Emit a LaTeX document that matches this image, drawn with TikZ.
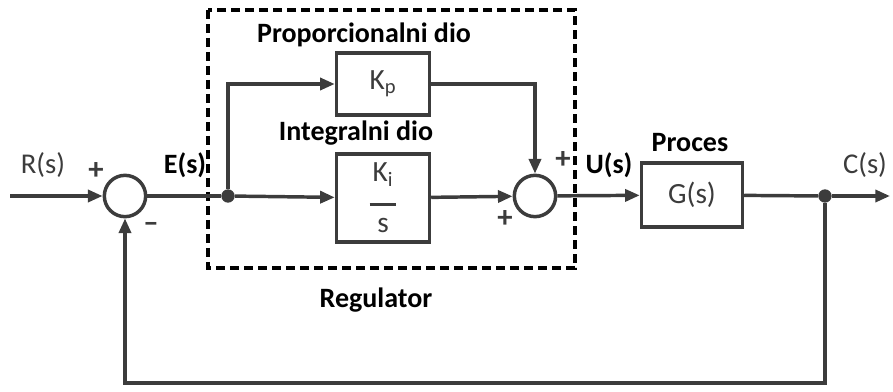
\documentclass[tikz,border=0pt]{standalone}
\usepackage{fontspec}
\setmainfont{Carlito}
\usetikzlibrary{arrows.meta,positioning}
\definecolor{linegray}{HTML}{3C3C3C}
\tikzset{
  wire/.style={draw=linegray, line width=2.6pt},
  conn/.style={wire, -{Triangle[length=11pt,width=9pt]}},
  block/.style={draw=linegray, line width=2.6pt, fill=white, text=linegray, font=\fontsize{22}{26}\selectfont},
  sumnode/.style={circle, draw=linegray, line width=2.6pt, minimum size=31pt, inner sep=0pt},
  dot/.style={circle, fill=linegray, minimum size=10pt, inner sep=0pt},
  sig/.style={font=\fontsize{21.5}{25}\selectfont, text=linegray},
  sigbold/.style={font=\bfseries\fontsize{21}{25}\selectfont},
  title/.style={font=\bfseries\fontsize{21}{25}\selectfont},
  sign/.style={font=\bfseries\fontsize{23}{26}\selectfont, text=linegray}
}
\begin{document}
\begin{tikzpicture}[x=0.75pt, y=-0.75pt]
  \useasboundingbox (0,0) rectangle (893,392);
  % blocks
  \node[sumnode] (sum1) at (125,196) {};
  \node[sumnode] (sum2) at (535,196) {};
  \node[block, minimum width=69.75pt, minimum height=46.5pt] (kp) at (383,84) {K\textsubscript{p}};
  \node[block, minimum width=69.75pt, minimum height=66pt, align=center] (ki) at (383,198)
    {K\textsubscript{i}\\[-8pt]\rule{20pt}{2pt}\\[-6pt]s};
  \node[block, minimum width=75.75pt, minimum height=48pt] (gs) at (692,195) {G(s)};
  \node[dot] (split) at (228,196) {};
  \node[dot] (tap) at (825,196) {};
  \coordinate (in) at (10,196);
  \coordinate (out) at (890,196);
  \coordinate (fb) at (825,383);
  % regulator frame
  \draw[black, line width=2.6pt, dash pattern=on 6.75pt off 3.75pt] (208,10) rectangle (575,268);
  % connections
  \draw[conn] (in) -- (sum1);
  \draw[wire] (sum1) -- (split);
  \draw[conn] (split) |- (kp);
  \draw[conn] (split) -- (ki);
  \draw[conn] (kp) -| (sum2);
  \draw[conn] (ki) -- (sum2);
  \draw[conn] (sum2) -- (gs);
  \draw[wire] (gs) -- (tap);
  \draw[conn] (tap) -- (out);
  % feedback
  \draw[conn] (tap) -- (fb) -| (sum1);
  % labels
  \node[sig] (rlbl) at (43,165) {R(s)};
  \node[sign] (p1) at (96,171) {+};
  \node[sign] (m1) at (151,227) {–};
  \node[sigbold] (elbl) at (185,165) {E(s)};
  \node[title] (ptitle) at (364,35) {Proporcionalni dio};
  \node[title] (ititle) at (356,133) {Integralni dio};
  \node[sign] (p2) at (563,160) {+};
  \node[sign] (p3) at (505,219) {+};
  \node[sigbold] (ulbl) at (609,165) {U(s)};
  \node[title] (proc) at (690,143) {Proces};
  \node[sig] (clbl) at (865,165) {C(s)};
  \node[title] (reg) at (376,300) {Regulator};
\end{tikzpicture}
\end{document}
